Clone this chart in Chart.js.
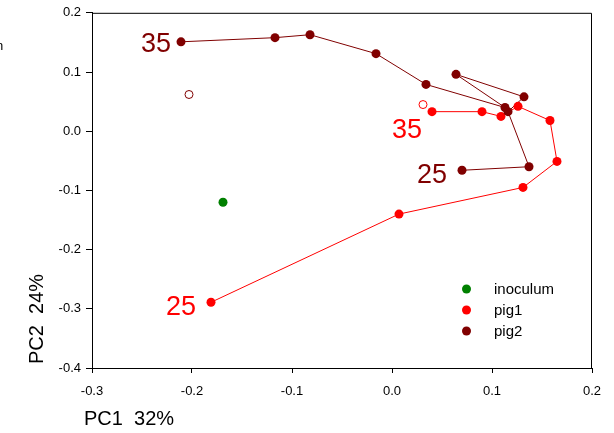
<!DOCTYPE html>
<html lang="en">
<head>
  <meta charset="UTF-8">
  <title>PCA - pig1 / pig2</title>
  <style>
    body { margin: 0; padding: 0; background: #fff; }
    #wrap { width: 614px; height: 433px; }
  </style>
  <script src="https://cdn.jsdelivr.net/npm/chart.js"></script>
</head>
<body>
  <div id="wrap"><canvas id="pca"></canvas></div>
  <script>
    // values (PC1, PC2)
    const pig1X = [-0.181, 0.007, 0.131, 0.165, 0.158, 0.126, 0.109, 0.090, 0.040];
    const pig1Y = [-0.289, -0.140, -0.095, -0.051, 0.018, 0.042, 0.025, 0.033, 0.033];
    const pig2X = [0.070, 0.137, 0.116, 0.132, 0.064, 0.113, 0.034, -0.016, -0.082, -0.117, -0.211];
    const pig2Y = [-0.066, -0.060, 0.033, 0.058, 0.096, 0.040, 0.079, 0.131, 0.163, 0.158, 0.151];
    const inoculumX = [-0.169];
    const inoculumY = [-0.120];
    // open circles
    const pig1CenterX = [0.031];
    const pig1CenterY = [0.045];
    const pig2CenterX = [-0.203];
    const pig2CenterY = [0.062];
    const xTicks = [-0.3, -0.2, -0.1, 0.0, 0.1, 0.2];
    const yTicks = [-0.4, -0.3, -0.2, -0.1, 0.0, 0.1, 0.2];

    const RED = '#ff0000', DARK = '#800000', GREEN = '#008000';
    const FONT = 'Arial, "Liberation Sans", sans-serif';

    function pts(xs, ys) {
      return xs.map((x, i) => ({ x: x, y: ys[i] }));
    }
    function fmt(v) {
      return Math.abs(v) < 1e-9 ? '0.0' : v.toFixed(1);
    }

    // frame, start/end labels, legend, axis titles
    const decor = {
      id: 'decor',
      afterDraw(chart) {
        const ctx = chart.ctx, a = chart.chartArea;
        const xs = chart.scales.x, ys = chart.scales.y;
        ctx.save();
        ctx.strokeStyle = '#000';
        ctx.lineWidth = 1;
        ctx.beginPath();
        ctx.moveTo(a.left, a.top + 0.5);
        ctx.lineTo(a.right - 0.5, a.top + 0.5);
        ctx.lineTo(a.right - 0.5, a.bottom);
        ctx.stroke();

        // start / end labels next to first and last point
        ctx.font = '27px ' + FONT;
        ctx.textBaseline = 'middle';
        ctx.textAlign = 'right';
        function tag(txt, col, x, y, dx, dy) {
          ctx.fillStyle = col;
          ctx.fillText(txt, xs.getPixelForValue(x) + dx, ys.getPixelForValue(y) + dy);
        }
        tag('35', DARK, pig2X[pig2X.length - 1], pig2Y[pig2Y.length - 1], -10, 3);
        tag('25', DARK, pig2X[0], pig2Y[0], -15, 5);
        tag('25', RED, pig1X[0], pig1Y[0], -15, 5);
        tag('35', RED, pig1X[pig1X.length - 1], pig1Y[pig1Y.length - 1], -10, 19);

        // legend
        const items = [['inoculum', GREEN], ['pig1', RED], ['pig2', DARK]];
        ctx.font = '15px ' + FONT;
        ctx.textAlign = 'left';
        items.forEach((it, i) => {
          const y = 289 + i * 21;
          ctx.fillStyle = it[1];
          ctx.beginPath();
          ctx.arc(466.5, y, 4.5, 0, Math.PI * 2);
          ctx.fill();
          ctx.fillStyle = '#000';
          ctx.fillText(it[0], 494, y + 1);
        });

        // axis titles
        ctx.font = '20px ' + FONT;
        ctx.fillStyle = '#000';
        ctx.textAlign = 'left';
        ctx.fillText('PC1  32%', 84, 419);
        ctx.save();
        ctx.translate(37, 364);
        ctx.rotate(-Math.PI / 2);
        ctx.fillText('PC2  24%', 0, 0);
        ctx.restore();

        // clipped text at left border
        ctx.font = '13px ' + FONT;
        ctx.fillText('n', -4, 46);
        ctx.restore();
      }
    };

    new Chart(document.getElementById('pca'), {
      type: 'scatter',
      data: {
        datasets: [
          { label: 'pig1 line', data: pts(pig1X, pig1Y), showLine: true, borderColor: RED, borderWidth: 1, pointRadius: 0, order: 5 },
          { label: 'pig2 line', data: pts(pig2X, pig2Y), showLine: true, borderColor: DARK, borderWidth: 1, pointRadius: 0, order: 4 },
          { label: 'pig1', data: pts(pig1X, pig1Y), backgroundColor: RED, borderColor: RED, pointRadius: 4.5, borderWidth: 0, order: 3 },
          { label: 'pig2', data: pts(pig2X, pig2Y), backgroundColor: DARK, borderColor: DARK, pointRadius: 4.5, borderWidth: 0, order: 2 },
          { label: 'inoculum', data: pts(inoculumX, inoculumY), backgroundColor: GREEN, borderColor: GREEN, pointRadius: 4.5, borderWidth: 0, order: 1 },
          { label: 'pig1 open', data: pts(pig1CenterX, pig1CenterY), backgroundColor: '#fff', borderColor: RED, pointRadius: 4, borderWidth: 1, order: 1 },
          { label: 'pig2 open', data: pts(pig2CenterX, pig2CenterY), backgroundColor: '#fff', borderColor: DARK, pointRadius: 4, borderWidth: 1, order: 1 }
        ]
      },
      options: {
        responsive: true,
        maintainAspectRatio: false,
        animation: false,
        layout: { padding: { top: 12, right: 22, left: 0, bottom: 0 } },
        plugins: { legend: { display: false }, tooltip: { enabled: false } },
        scales: {
          x: {
            type: 'linear',
            min: -0.3, max: 0.2,
            afterBuildTicks: s => { s.ticks = xTicks.map(v => ({ value: v })); },
            afterFit: s => { s.height = 65; },
            grid: { drawOnChartArea: false, drawTicks: true, tickLength: 5, color: '#000' },
            border: { display: true, color: '#000', width: 1 },
            ticks: { callback: fmt, color: '#000', padding: 11, maxRotation: 0, font: { size: 13, family: FONT } }
          },
          y: {
            type: 'linear',
            min: -0.4, max: 0.2,
            afterBuildTicks: s => { s.ticks = yTicks.map(v => ({ value: v })); },
            afterFit: s => { s.width = 92; },
            grid: { drawOnChartArea: false, drawTicks: true, tickLength: 6, color: '#000' },
            border: { display: true, color: '#000', width: 1 },
            ticks: { callback: fmt, color: '#000', padding: 5, font: { size: 13, family: FONT } }
          }
        }
      },
      plugins: [decor]
    });
  </script>
</body>
</html>
